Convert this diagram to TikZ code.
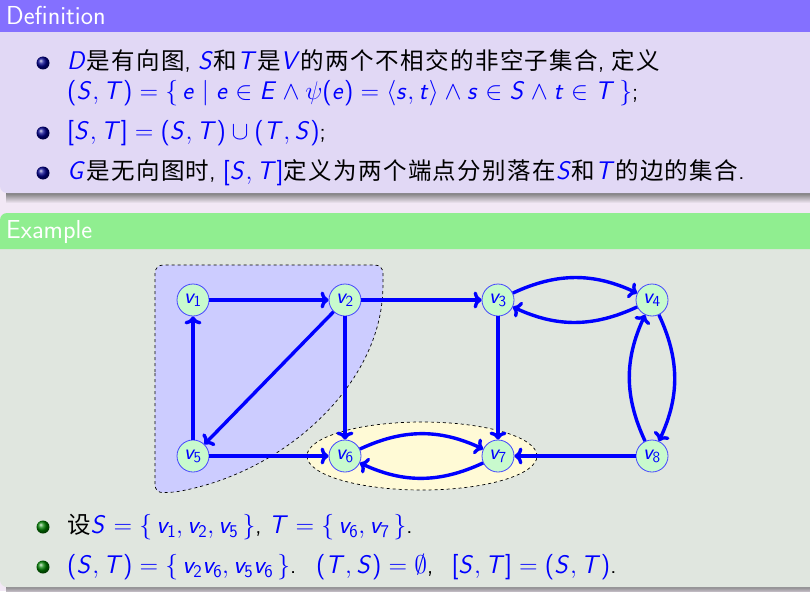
\RequirePackage{fix-cm}
\documentclass[tikz,border=0pt]{standalone}
\usepackage[no-math]{fontspec}
\newfontfamily\cjk[LetterSpace=6]{Noto Sans CJK SC}
\renewcommand\familydefault{\sfdefault}
\DeclareSymbolFont{operators}{OT1}{cmss}{m}{n}
\DeclareSymbolFont{sfit}{OT1}{cmss}{m}{sl}
\makeatletter
\def\setsfletter#1{\DeclareMathSymbol{#1}{\mathalpha}{sfit}{`#1}}
\@tfor\x:=abcdefghijklmnopqrstuvwxyzABCDEFGHIJKLMNOPQRSTUVWXYZ\do{\expandafter\setsfletter\x}
\makeatother
\newcommand\tightlines{\setlength{\lineskiplimit}{-100pt}}
\usetikzlibrary{arrows.meta}
\definecolor{pagebg}{RGB}{242,232,245}
\definecolor{defhead}{RGB}{132,112,255}
\definecolor{defbody}{RGB}{225,216,245}
\definecolor{exhead}{RGB}{144,238,144}
\definecolor{exbody}{RGB}{224,230,223}
\definecolor{regblue}{RGB}{204,204,255}
\definecolor{regyellow}{RGB}{255,250,214}
\definecolor{vfill}{RGB}{200,250,205}
\definecolor{vdraw}{RGB}{70,70,255}
\newcommand\zh[1]{{\cjk #1}}
\newcommand\mb[1]{{\fontsize{25.5}{28}\selectfont\textcolor{blue}{$#1$}}}
\tikzset{
  vert/.style={circle, draw=vdraw, line width=0.8pt, fill=vfill, minimum size=32pt, inner sep=0pt, text=blue, font=\fontsize{22}{24}\selectfont},
  arc/.style={draw=blue, line width=3.4pt, -{To[length=8pt,width=17pt]}},
  txt/.style={anchor=west, inner sep=0pt, font=\fontsize{23.5}{28}\selectfont},
  txttwo/.style={anchor=west, inner sep=0pt, align=left, font=\fontsize{23.5}{30}\selectfont\tightlines},
  ttl/.style={anchor=west, inner sep=0pt, text=white, font=\fontsize{26}{28}\selectfont},
  region/.style={draw=black, dashed, line width=0.7pt},
}
\begin{document}
\begin{tikzpicture}[x=1pt,y=-1pt]
\useasboundingbox (0,0) rectangle (810,591);
\fill[pagebg] (0,0) rectangle (810,591);
% definition block
\shade[top color=black!55, bottom color=pagebg] (6,192) rectangle (815,203);
\fill[defbody, rounded corners=7pt] (0,20) rectangle (830,193);
\fill[defhead] (0,0) rectangle (830,32);
\node[ttl] (deft) at (6,15) {Definition};
% example block
\shade[top color=black!55, bottom color=pagebg] (6,585) rectangle (815,595);
\fill[exbody, rounded corners=7pt] (0,230) rectangle (830,587);
\fill[exhead] (0,249) [rounded corners=7pt] -- (0,213) -- (830,213) [sharp corners] -- (830,249) -- cycle;
\node[ttl] (ext) at (6,232) {Example};
% bullets definition
\foreach \yy in {63,133,173} \shade[ball color=blue!55!black] (43,\yy) circle (6.5pt);
\node[txttwo] (d1) at (67,78) {\mb{D}\zh{是有向图}, \mb{S}\zh{和}\mb{T}\zh{是}\mb{V}\zh{的两个不相交的非空子集合}, \zh{定义}\\
\mb{(S,T)=\bigl\{\,e\bigm|e\in E\wedge\psi(e)=\langle s,t\rangle\wedge s\in S\wedge t\in T\,\bigr\}};};
\node[txt] (d3) at (67,133) {\mb{\bigl[S,T\bigr]=(S,T)\cup(T,S)};};
\node[txt] (d4) at (67,173) {\mb{G}\zh{是无向图时}, \mb{\bigl[S,T\bigr]}\zh{定义为两个端点分别落在}\mb{S}\zh{和}\mb{T}\zh{的边的集合}.};
% regions
\draw[region, fill=regblue] (155,380) [rounded corners=8pt] -- (155,265) -- (383,265) -- (383,290) [sharp corners] .. controls (375,390) and (280,475) .. (175,492) [rounded corners=8pt] -- (155,493) -- cycle;
\draw[region, fill=regyellow] (422,456) ellipse [x radius=115pt, y radius=34pt];
% vertices
\node[vert] (v1) at (193,300) {$v_1$};
\node[vert] (v2) at (345,300) {$v_2$};
\node[vert] (v3) at (498,300) {$v_3$};
\node[vert] (v4) at (652,300) {$v_4$};
\node[vert] (v5) at (193,456) {$v_5$};
\node[vert] (v6) at (345,456) {$v_6$};
\node[vert] (v7) at (498,456) {$v_7$};
\node[vert] (v8) at (652,456) {$v_8$};
% edges
\draw[arc] (v1) -- (v2);
\draw[arc] (v2) -- (v3);
\draw[arc] (v5) -- (v1);
\draw[arc] (v2) -- (v5);
\draw[arc] (v2) -- (v6);
\draw[arc] (v5) -- (v6);
\draw[arc] (v3) -- (v7);
\draw[arc] (v8) -- (v7);
\draw[arc] (v6) to[bend left=25] (v7);
\draw[arc] (v7) to[bend left=25] (v6);
\draw[arc] (v3) to[bend left=25] (v4);
\draw[arc] (v4) to[bend left=25] (v3);
\draw[arc] (v4) to[bend left=25] (v8);
\draw[arc] (v8) to[bend left=25] (v4);
% bullets example
\foreach \yy in {527,567} \shade[ball color=green!50!black] (43,\yy) circle (6.5pt);
\node[txt] (e1) at (67,527) {\zh{设}\mb{S=\bigl\{\,v_1,v_2,v_5\,\bigr\}}, \mb{T=\bigl\{\,v_6,v_7\,\bigr\}}.};
\node[txt] (e2) at (67,567) {\mb{(S,T)=\bigl\{\,v_2v_6,v_5v_6\,\bigr\}}.\hspace{10pt} \mb{(T,S)=\emptyset},\hspace{11pt} \mb{\bigl[S,T\bigr]=(S,T)}.};
\end{tikzpicture}
\end{document}
